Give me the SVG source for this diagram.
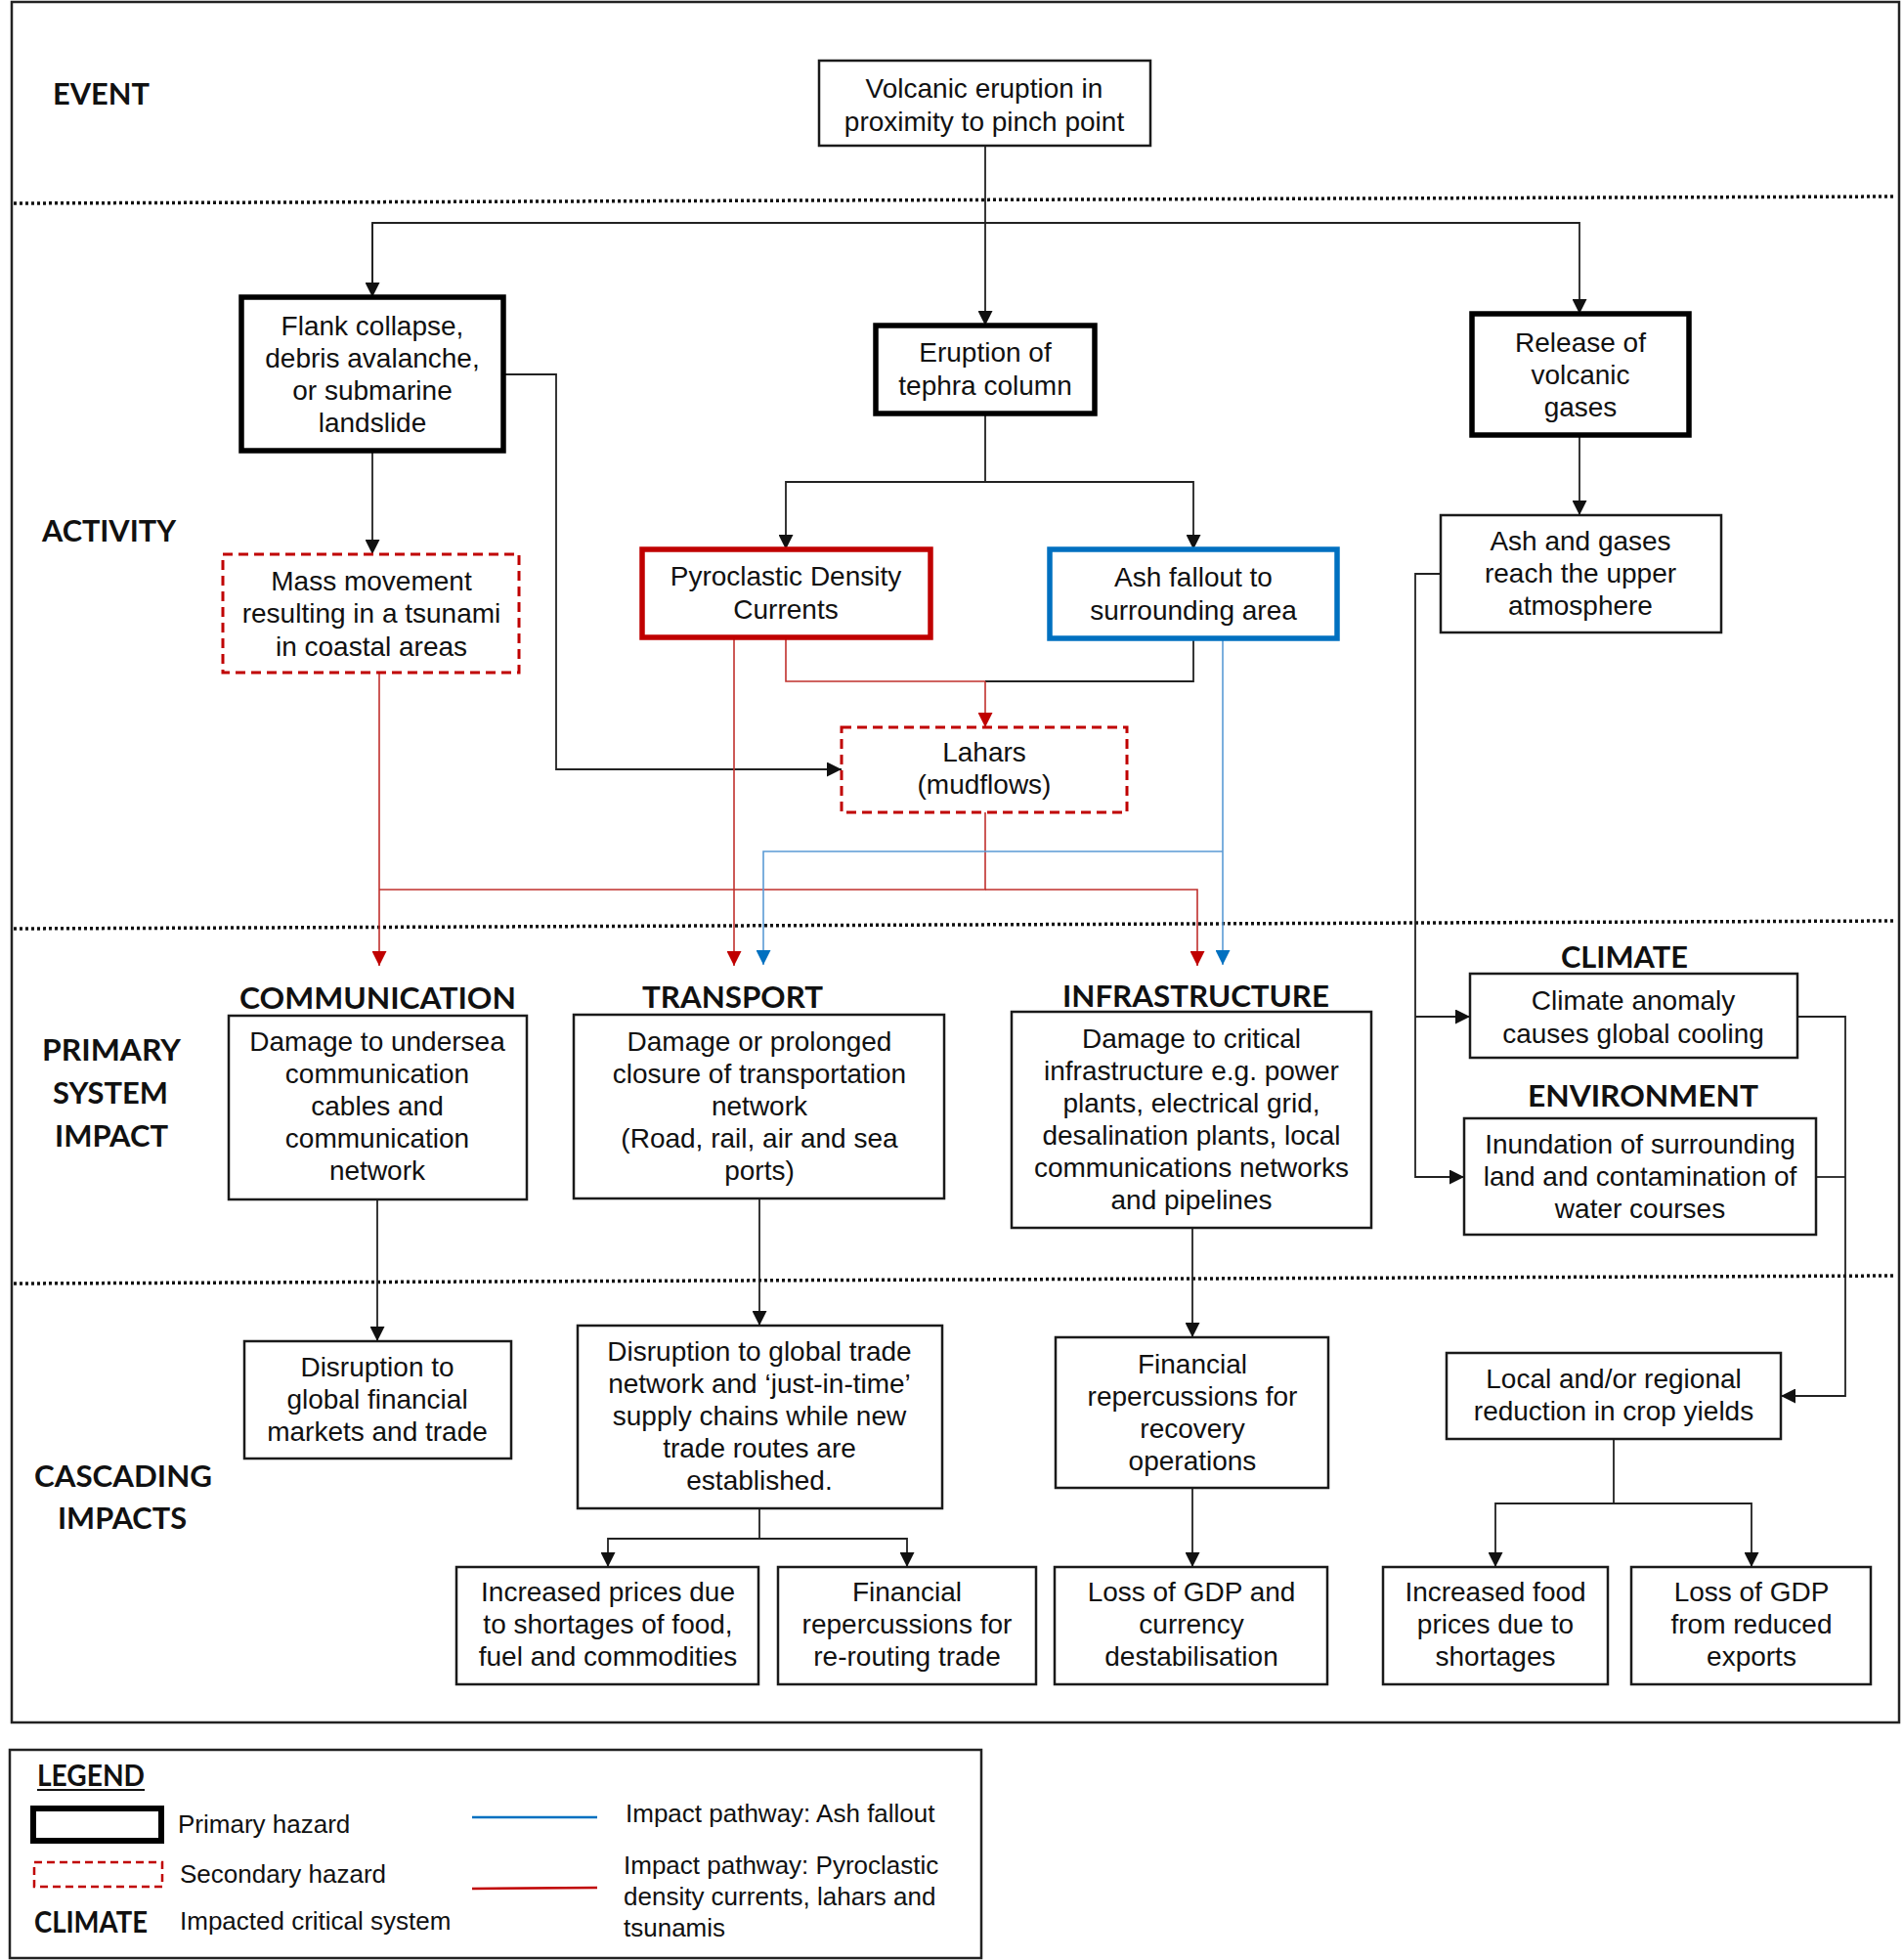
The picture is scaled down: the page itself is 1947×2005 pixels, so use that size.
<svg xmlns="http://www.w3.org/2000/svg" width="1947" height="2005" viewBox="0 0 1947 2005">
<style>
.bg{fill:#fff}
.box{fill:#fff;stroke:#1a1a1a;stroke-width:2.5}
.prim{fill:#fff;stroke:#000;stroke-width:5.5}
.pdc{fill:#fff;stroke:#c00000;stroke-width:5.5}
.ash{fill:#fff;stroke:#0070c0;stroke-width:5.5}
.sec{fill:#fff;stroke:#c00000;stroke-width:3;stroke-dasharray:10 6}
.t{font-family:"Liberation Sans",Arial,sans-serif;font-size:28px;fill:#111;text-anchor:middle}
.h{font-family:Lato,"Liberation Sans",sans-serif;font-weight:700;font-size:30px;fill:#111}
.lg{font-family:"Liberation Sans",Arial,sans-serif;font-size:26px;fill:#111}
.sep{stroke:#111;stroke-width:3.5;stroke-dasharray:3 3;fill:none}
.k{fill:none;stroke:#222;stroke-width:1.8}
.r{fill:none;stroke:#c0302d;stroke-width:1.6}
.b{fill:none;stroke:#5b9bd5;stroke-width:1.6}
</style>
<defs>
<marker id="ak" markerUnits="userSpaceOnUse" markerWidth="15" markerHeight="15" refX="15" refY="7.5" orient="auto"><path d="M0,0 L15,7.5 L0,15 z" fill="#111"/></marker>
<marker id="ar" markerUnits="userSpaceOnUse" markerWidth="15" markerHeight="15" refX="15" refY="7.5" orient="auto"><path d="M0,0 L15,7.5 L0,15 z" fill="#c00000"/></marker>
<marker id="ab" markerUnits="userSpaceOnUse" markerWidth="15" markerHeight="15" refX="15" refY="7.5" orient="auto"><path d="M0,0 L15,7.5 L0,15 z" fill="#0070c0"/></marker>
</defs>
<rect class="bg" x="0" y="0" width="1947" height="2005"/>
<rect x="12" y="2" width="1931" height="1760" fill="none" stroke="#222" stroke-width="2.5"/>

<g id="separators">
<line class="sep" x1="14" y1="208" x2="1940" y2="201"/>
<line class="sep" x1="14" y1="950" x2="1940" y2="942"/>
<line class="sep" x1="14" y1="1313" x2="1940" y2="1305"/>
</g>

<g id="row-labels">
<text class="h" x="54" y="107" textLength="99" lengthAdjust="spacingAndGlyphs">EVENT</text>
<text class="h" x="43" y="554" textLength="137" lengthAdjust="spacingAndGlyphs">ACTIVITY</text>
<text class="h" x="43" y="1085" textLength="142" lengthAdjust="spacingAndGlyphs">PRIMARY</text>
<text class="h" x="54" y="1129" textLength="118" lengthAdjust="spacingAndGlyphs">SYSTEM</text>
<text class="h" x="56" y="1173" textLength="116" lengthAdjust="spacingAndGlyphs">IMPACT</text>
<text class="h" x="35" y="1521" textLength="182" lengthAdjust="spacingAndGlyphs">CASCADING</text>
<text class="h" x="59" y="1564" textLength="132" lengthAdjust="spacingAndGlyphs">IMPACTS</text>
</g>

<g id="system-labels">
<text class="h" x="245" y="1032" textLength="283" lengthAdjust="spacingAndGlyphs">COMMUNICATION</text>
<text class="h" x="657" y="1031" textLength="185" lengthAdjust="spacingAndGlyphs">TRANSPORT</text>
<text class="h" x="1087" y="1030" textLength="273" lengthAdjust="spacingAndGlyphs">INFRASTRUCTURE</text>
<text class="h" x="1597" y="990" textLength="130" lengthAdjust="spacingAndGlyphs">CLIMATE</text>
<text class="h" x="1563" y="1132" textLength="236" lengthAdjust="spacingAndGlyphs">ENVIRONMENT</text>
</g>

<g id="connectors">
<path class="k" d="M1008,149 V333" marker-end="url(#ak)"/>
<path class="k" d="M381,304 V228 H1616 V321" marker-end="url(#ak)"/>
<path class="k" d="M381,228 V304" marker-end="url(#ak)"/>
<path class="k" d="M381,461 V567" marker-end="url(#ak)"/>
<path class="k" d="M515,383 H569 V787 H861" marker-end="url(#ak)"/>
<path class="k" d="M1008,423 V493 H1221 V562" marker-end="url(#ak)"/>
<path class="k" d="M1008,493 H804 V562" marker-end="url(#ak)"/>
<path class="k" d="M1616,445 V527" marker-end="url(#ak)"/>
<path class="k" d="M1221,653 V697 H1008"/>
<path class="r" d="M804,652 V697 H1008"/>
<path class="r" d="M1008,697 V744" marker-end="url(#ar)"/>
<path class="r" d="M388,688 V988" marker-end="url(#ar)"/>
<path class="r" d="M751,652 V988" marker-end="url(#ar)"/>
<path class="r" d="M1008,831 V910 H388"/>
<path class="r" d="M1008,910 H1225 V988" marker-end="url(#ar)"/>
<path class="b" d="M1251,640 V987" marker-end="url(#ab)"/>
<path class="b" d="M1251,871 H781 V987" marker-end="url(#ab)"/>
<path class="k" d="M1474,587 H1448 V1204 H1498" marker-end="url(#ak)"/>
<path class="k" d="M1448,1040 H1504" marker-end="url(#ak)"/>
<path class="k" d="M1839,1040 H1888 V1428 H1822" marker-end="url(#ak)"/>
<path class="k" d="M1858,1204 H1888"/>
<path class="k" d="M386,1227 V1372" marker-end="url(#ak)"/>
<path class="k" d="M777,1226 V1356" marker-end="url(#ak)"/>
<path class="k" d="M1220,1256 V1368" marker-end="url(#ak)"/>
<path class="k" d="M777,1543 V1574 H622 V1603" marker-end="url(#ak)"/>
<path class="k" d="M777,1574 H928 V1603" marker-end="url(#ak)"/>
<path class="k" d="M1220,1522 V1603" marker-end="url(#ak)"/>
<path class="k" d="M1651,1472 V1538 H1530 V1603" marker-end="url(#ak)"/>
<path class="k" d="M1651,1538 H1792 V1603" marker-end="url(#ak)"/>
</g>

<g id="n-eruption-event">
<rect class="box" x="838" y="62" width="339" height="87"/>
<text class="t" x="1007" y="100">Volcanic eruption in</text>
<text class="t" x="1007" y="134">proximity to pinch point</text>
</g>
<g id="n-flank">
<rect class="prim" x="247" y="304" width="268" height="157"/>
<text class="t" x="381" y="343">Flank collapse,</text>
<text class="t" x="381" y="376">debris avalanche,</text>
<text class="t" x="381" y="409">or submarine</text>
<text class="t" x="381" y="442">landslide</text>
</g>
<g id="n-tephra">
<rect class="prim" x="896" y="333" width="224" height="90"/>
<text class="t" x="1008" y="370">Eruption of</text>
<text class="t" x="1008" y="404">tephra column</text>
</g>
<g id="n-gases">
<rect class="prim" x="1506" y="321" width="222" height="124"/>
<text class="t" x="1617" y="360">Release of</text>
<text class="t" x="1617" y="393">volcanic</text>
<text class="t" x="1617" y="426">gases</text>
</g>
<g id="n-mass">
<rect class="sec" x="228" y="567" width="303" height="121"/>
<text class="t" x="380" y="604">Mass movement</text>
<text class="t" x="380" y="637">resulting in a tsunami</text>
<text class="t" x="380" y="671">in coastal areas</text>
</g>
<g id="n-pdc">
<rect class="pdc" x="657" y="562" width="295" height="90"/>
<text class="t" x="804" y="599">Pyroclastic Density</text>
<text class="t" x="804" y="633">Currents</text>
</g>
<g id="n-ashfall">
<rect class="ash" x="1074" y="562" width="294" height="91"/>
<text class="t" x="1221" y="600">Ash fallout to</text>
<text class="t" x="1221" y="634">surrounding area</text>
</g>
<g id="n-upper">
<rect class="box" x="1474" y="527" width="287" height="120"/>
<text class="t" x="1617" y="563">Ash and gases</text>
<text class="t" x="1617" y="596">reach the upper</text>
<text class="t" x="1617" y="629">atmosphere</text>
</g>
<g id="n-lahars">
<rect class="sec" x="861" y="744" width="292" height="87"/>
<text class="t" x="1007" y="779">Lahars</text>
<text class="t" x="1007" y="812">(mudflows)</text>
</g>
<g id="n-comm">
<rect class="box" x="234" y="1039" width="305" height="188"/>
<text class="t" x="386" y="1075">Damage to undersea</text>
<text class="t" x="386" y="1108">communication</text>
<text class="t" x="386" y="1141">cables and</text>
<text class="t" x="386" y="1174">communication</text>
<text class="t" x="386" y="1207">network</text>
</g>
<g id="n-transport">
<rect class="box" x="587" y="1038" width="379" height="188"/>
<text class="t" x="777" y="1075">Damage or prolonged</text>
<text class="t" x="777" y="1108">closure of transportation</text>
<text class="t" x="777" y="1141">network</text>
<text class="t" x="777" y="1174">(Road, rail, air and sea</text>
<text class="t" x="777" y="1207">ports)</text>
</g>
<g id="n-infra">
<rect class="box" x="1035" y="1035" width="368" height="221"/>
<text class="t" x="1219" y="1072">Damage to critical</text>
<text class="t" x="1219" y="1105">infrastructure e.g. power</text>
<text class="t" x="1219" y="1138">plants, electrical grid,</text>
<text class="t" x="1219" y="1171">desalination plants, local</text>
<text class="t" x="1219" y="1204">communications networks</text>
<text class="t" x="1219" y="1237">and pipelines</text>
</g>
<g id="n-climate">
<rect class="box" x="1504" y="996" width="335" height="86"/>
<text class="t" x="1671" y="1033">Climate anomaly</text>
<text class="t" x="1671" y="1067">causes global cooling</text>
</g>
<g id="n-env">
<rect class="box" x="1498" y="1144" width="360" height="119"/>
<text class="t" x="1678" y="1180">Inundation of surrounding</text>
<text class="t" x="1678" y="1213">land and contamination of</text>
<text class="t" x="1678" y="1246">water courses</text>
</g>
<g id="n-markets">
<rect class="box" x="250" y="1372" width="273" height="120"/>
<text class="t" x="386" y="1408">Disruption to</text>
<text class="t" x="386" y="1441">global financial</text>
<text class="t" x="386" y="1474">markets and trade</text>
</g>
<g id="n-trade">
<rect class="box" x="591" y="1356" width="373" height="187"/>
<text class="t" x="777" y="1392">Disruption to global trade</text>
<text class="t" x="777" y="1425">network and ‘just-in-time’</text>
<text class="t" x="777" y="1458">supply chains while new</text>
<text class="t" x="777" y="1491">trade routes are</text>
<text class="t" x="777" y="1524">established.</text>
</g>
<g id="n-recovery">
<rect class="box" x="1080" y="1368" width="279" height="154"/>
<text class="t" x="1220" y="1405">Financial</text>
<text class="t" x="1220" y="1438">repercussions for</text>
<text class="t" x="1220" y="1471">recovery</text>
<text class="t" x="1220" y="1504">operations</text>
</g>
<g id="n-crops">
<rect class="box" x="1480" y="1384" width="342" height="88"/>
<text class="t" x="1651" y="1420">Local and/or regional</text>
<text class="t" x="1651" y="1453">reduction in crop yields</text>
</g>
<g id="n-prices">
<rect class="box" x="467" y="1603" width="309" height="120"/>
<text class="t" x="622" y="1638">Increased prices due</text>
<text class="t" x="622" y="1671">to shortages of food,</text>
<text class="t" x="622" y="1704">fuel and commodities</text>
</g>
<g id="n-rerouting">
<rect class="box" x="796" y="1603" width="264" height="120"/>
<text class="t" x="928" y="1638">Financial</text>
<text class="t" x="928" y="1671">repercussions for</text>
<text class="t" x="928" y="1704">re-routing trade</text>
</g>
<g id="n-gdp-currency">
<rect class="box" x="1079" y="1603" width="279" height="120"/>
<text class="t" x="1219" y="1638">Loss of GDP and</text>
<text class="t" x="1219" y="1671">currency</text>
<text class="t" x="1219" y="1704">destabilisation</text>
</g>
<g id="n-food">
<rect class="box" x="1415" y="1603" width="230" height="120"/>
<text class="t" x="1530" y="1638">Increased food</text>
<text class="t" x="1530" y="1671">prices due to</text>
<text class="t" x="1530" y="1704">shortages</text>
</g>
<g id="n-exports">
<rect class="box" x="1669" y="1603" width="245" height="120"/>
<text class="t" x="1792" y="1638">Loss of GDP</text>
<text class="t" x="1792" y="1671">from reduced</text>
<text class="t" x="1792" y="1704">exports</text>
</g>

<g id="legend">
<rect x="10" y="1790" width="994" height="213" fill="none" stroke="#222" stroke-width="2.5"/>
<text class="h" x="38" y="1827" font-size="26" textLength="110" lengthAdjust="spacingAndGlyphs">LEGEND</text>
<line x1="38" y1="1831" x2="148" y2="1831" stroke="#111" stroke-width="2"/>
<rect x="34" y="1850" width="131" height="33" fill="#fff" stroke="#000" stroke-width="6"/>
<text class="lg" x="182" y="1875">Primary hazard</text>
<rect x="35" y="1905" width="131" height="25" fill="#fff" stroke="#c00000" stroke-width="2.5" stroke-dasharray="8 5"/>
<text class="lg" x="184" y="1926">Secondary hazard</text>
<text class="h" x="35" y="1977" font-size="26" textLength="116" lengthAdjust="spacingAndGlyphs">CLIMATE</text>
<text class="lg" x="184" y="1974">Impacted critical system</text>
<line x1="483" y1="1859" x2="611" y2="1859" stroke="#0070c0" stroke-width="2.5"/>
<text class="lg" x="640" y="1864">Impact pathway: Ash fallout</text>
<line x1="483" y1="1932" x2="611" y2="1931" stroke="#c00000" stroke-width="2.5"/>
<text class="lg" x="638" y="1917">Impact pathway: Pyroclastic</text>
<text class="lg" x="638" y="1949">density currents, lahars and</text>
<text class="lg" x="638" y="1981">tsunamis</text>
</g>
</svg>
